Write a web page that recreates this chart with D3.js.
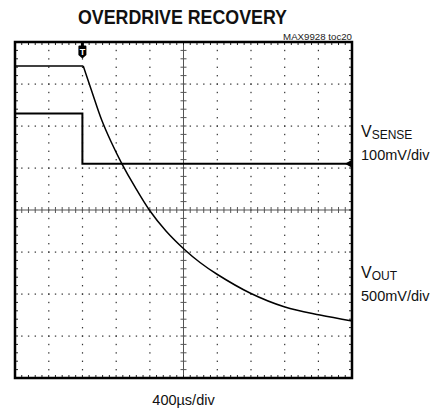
<!DOCTYPE html>
<html>
<head>
<meta charset="utf-8">
<script src="https://cdn.jsdelivr.net/npm/d3@7"></script>
<style>
  body { margin: 0; background: #fff; }
  svg { display: block; }
</style>
</head>
<body>
<svg id="chart" width="439" height="414"></svg>
<script>
// values: time in µs (trigger at 0), traces in mV
var vsenseTime = [-800, 0, 0, 3200];
var vsenseMv   = [230, 230, 110, 110];

var voutTime = [-800, 10, 114, 229, 339, 466, 624, 794, 992, 1218, 1396, 1598, 1989, 2404, 2820, 3200];
var voutMv   = [1714, 1714, 1405, 1071, 815, 556, 274, 0, -250, -476, -625, -765, -988, -1155, -1250, -1321];

var timeDomain = [-800, 3200],   // 10 div x 400µs
    voutDomain = [-2000, 2000],  // 8 div x 500mV
    senseDomain = [-400, 400];   // 8 div x 100mV

var labels = [
  { main: "V", sub: "SENSE", scale: "100mV/div", y: 137 },
  { main: "V", sub: "OUT",   scale: "500mV/div", y: 278 }
];

var pLeft = 15, pRight = 352, pTop = 42, pBottom = 378;

var svg = d3.select("#chart");

var x = d3.scaleLinear().domain(timeDomain).range([pLeft, pRight]);
var yOut = d3.scaleLinear().domain(voutDomain).range([pBottom, pTop]);
var ySense = d3.scaleLinear().domain(senseDomain).range([pBottom, pTop]);

var xMajor = d3.range(timeDomain[0], timeDomain[1] + 1, 400),
    xMinor = d3.range(timeDomain[0], timeDomain[1] + 1, 80),
    yMajor = d3.range(voutDomain[0], voutDomain[1] + 1, 500),
    yMinor = d3.range(voutDomain[0], voutDomain[1] + 1, 100);

var xMid = x(1200), yMid = yOut(0);

var grid = svg.append("g").attr("fill", "#333");

// dotted division lines
xMajor.slice(1, -1).forEach(function(t) {
  if (t === 1200) return;
  grid.selectAll(null)
    .data(yMinor.slice(1, -1))
    .enter().append("rect")
    .attr("x", x(t) - 0.5)
    .attr("y", function(v) { return yOut(v) - 0.6; })
    .attr("width", 1.2)
    .attr("height", 1.4);
});
yMajor.slice(1, -1).forEach(function(v) {
  if (v === 0) return;
  grid.selectAll(null)
    .data(xMinor.slice(1, -1))
    .enter().append("rect")
    .attr("x", function(t) { return x(t) - 0.6; })
    .attr("y", yOut(v) - 0.5)
    .attr("width", 1.4)
    .attr("height", 1.2);
});

// center cross with minor ticks
var cross = svg.append("g").attr("stroke", "#555").attr("stroke-width", 1);
cross.append("line").attr("x1", pLeft).attr("x2", pRight).attr("y1", yMid).attr("y2", yMid);
cross.append("line").attr("x1", xMid).attr("x2", xMid).attr("y1", pTop).attr("y2", pBottom);
cross.selectAll(".tx")
  .data(xMinor.slice(1, -1))
  .enter().append("line")
  .attr("x1", function(t) { return x(t); })
  .attr("x2", function(t) { return x(t); })
  .attr("y1", yMid - 3)
  .attr("y2", yMid + 3);
cross.selectAll(".ty")
  .data(yMinor.slice(1, -1))
  .enter().append("line")
  .attr("y1", function(v) { return yOut(v); })
  .attr("y2", function(v) { return yOut(v); })
  .attr("x1", xMid - 3)
  .attr("x2", xMid + 3);

// ticks on the inside of the frame
var edge = svg.append("g").attr("stroke", "#222").attr("stroke-width", 1);
xMinor.slice(1, -1).forEach(function(t) {
  edge.append("line").attr("x1", x(t)).attr("x2", x(t)).attr("y1", pTop).attr("y2", pTop + 3);
  edge.append("line").attr("x1", x(t)).attr("x2", x(t)).attr("y1", pBottom).attr("y2", pBottom - 3);
});
yMinor.slice(1, -1).forEach(function(v) {
  edge.append("line").attr("y1", yOut(v)).attr("y2", yOut(v)).attr("x1", pLeft).attr("x2", pLeft + 3);
  edge.append("line").attr("y1", yOut(v)).attr("y2", yOut(v)).attr("x1", pRight).attr("x2", pRight - 3);
});

// traces
var sensePts = vsenseTime.map(function(t, i) { return [t, vsenseMv[i]]; });
var outPts = voutTime.map(function(t, i) { return [t, voutMv[i]]; });

svg.append("path")
  .datum(sensePts)
  .attr("fill", "none")
  .attr("stroke", "#000")
  .attr("stroke-width", 2)
  .attr("d", d3.line()
    .x(function(d) { return x(d[0]); })
    .y(function(d) { return ySense(d[1]); }));

var outLine = d3.line()
  .x(function(d) { return x(d[0]); })
  .y(function(d) { return yOut(d[1]); });

svg.append("path")
  .datum(outPts.slice(0, 2))
  .attr("fill", "none")
  .attr("stroke", "#000")
  .attr("stroke-width", 1.5)
  .attr("d", outLine);

svg.append("path")
  .datum(outPts.slice(1))
  .attr("fill", "none")
  .attr("stroke", "#000")
  .attr("stroke-width", 1.5)
  .attr("d", outLine.curve(d3.curveCatmullRom.alpha(0.5)));

// frame
svg.append("rect")
  .attr("x", pLeft).attr("y", pTop)
  .attr("width", pRight - pLeft).attr("height", pBottom - pTop)
  .attr("fill", "none")
  .attr("stroke", "#000")
  .attr("stroke-width", 2.5);

// trigger marker
var tx = x(0);
var trig = svg.append("g").attr("transform", "translate(" + tx + "," + (pTop + 1) + ")");
trig.append("path")
  .attr("d", "M-1.5,0 L1.5,0 L1.5,2.5 L3,2.5 Q4,2.5 4,3.5 L4,12 L0,15.5 L-4,12 L-4,3.5 Q-4,2.5 -3,2.5 L-1.5,2.5 Z")
  .attr("fill", "#000");
trig.append("text")
  .attr("x", 0).attr("y", 12)
  .attr("text-anchor", "middle")
  .attr("fill", "#fff")
  .attr("font-family", "Liberation Sans, Arial, sans-serif")
  .attr("font-weight", "bold")
  .attr("font-size", 9)
  .text("T");

// offset arrow on the right edge
var ay = ySense(vsenseMv[vsenseMv.length - 1]);
svg.append("path")
  .attr("d", "M" + (pRight - 7) + "," + ay + " L" + pRight + "," + (ay - 4) + " L" + pRight + "," + (ay + 4) + " Z")
  .attr("fill", "#000");

// text
svg.append("text")
  .attr("x", 78).attr("y", 24)
  .attr("textLength", 209)
  .attr("lengthAdjust", "spacingAndGlyphs")
  .attr("font-family", "Liberation Sans, Arial, sans-serif")
  .attr("font-weight", "bold")
  .attr("font-size", 20)
  .attr("fill", "#111")
  .text("OVERDRIVE RECOVERY");

svg.append("text")
  .attr("x", pRight).attr("y", 39.5)
  .attr("text-anchor", "end")
  .attr("font-family", "Liberation Sans, Arial, sans-serif")
  .attr("font-size", 9.7)
  .attr("fill", "#222")
  .text("MAX9928 toc20");

labels.forEach(function(l) {
  var t = svg.append("text")
    .attr("x", 361).attr("y", l.y)
    .attr("font-family", "Liberation Sans, Arial, sans-serif")
    .attr("font-size", 16)
    .attr("fill", "#111");
  t.append("tspan").text(l.main);
  t.append("tspan").attr("font-size", 12).attr("dy", 1.5).text(l.sub);
  svg.append("text")
    .attr("x", 361).attr("y", l.y + 23)
    .attr("font-family", "Liberation Sans, Arial, sans-serif")
    .attr("font-size", 14.5)
    .attr("fill", "#111")
    .text(l.scale);
});

svg.append("text")
  .attr("x", xMid).attr("y", 405)
  .attr("text-anchor", "middle")
  .attr("font-family", "Liberation Sans, Arial, sans-serif")
  .attr("font-size", 14.5)
  .attr("fill", "#111")
  .text("400µs/div");
</script>
</body>
</html>
